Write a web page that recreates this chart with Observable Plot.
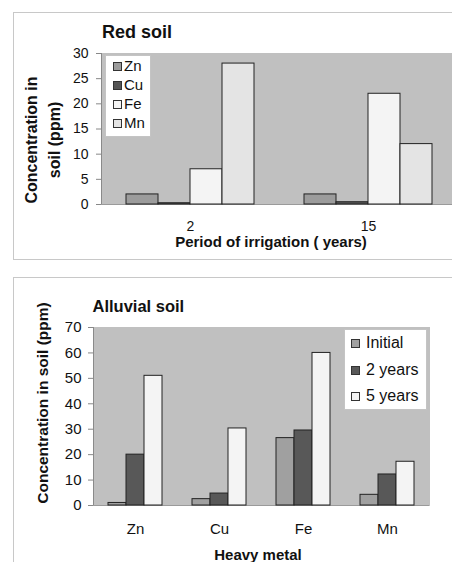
<!DOCTYPE html>
<html>
<head>
<meta charset="utf-8">
<script src="https://cdn.jsdelivr.net/npm/d3@7"></script>
<script src="https://cdn.jsdelivr.net/npm/@observablehq/plot@0.6"></script>
<style>
  html, body { margin: 0; padding: 0; background: #fff; overflow: hidden; width: 452px; height: 562px; }
  body { position: relative; font-family: "Liberation Sans", Arial, sans-serif; color: #111; }
  .abs { position: absolute; }
  .frame { position: absolute; border: 1.5px solid #c8c8c8; box-sizing: border-box; }
  .title { position: absolute; font-weight: bold; line-height: 1; white-space: nowrap; }
  .rot { position: absolute; font-weight: bold; white-space: nowrap; text-align: center;
         transform: translate(-50%, -50%) rotate(-90deg); }
  .legend { position: absolute; background: #fff; border: 1px solid #c4c4c4; box-sizing: border-box; }
  .legend .row { white-space: nowrap; }
  .legend .sw { display: inline-block; width: 7px; height: 7px; border: 1px solid #333; vertical-align: 0px; }
</style>
</head>
<body>
<script>
// ---------- data ----------
const redPeriods = ["2", "15"];
const redMetals = ["Zn", "Cu", "Fe", "Mn"];
const redZn = [2, 2];
const redCu = [0.25, 0.45];
const redFe = [7, 22];
const redMn = [28, 12];
const redTicks = [0, 5, 10, 15, 20, 25, 30];
const redColors = ["#9c9c9c", "#555555", "#f4f4f4", "#e4e4e4"];

const alluvialMetals = ["Zn", "Cu", "Fe", "Mn"];
const alluvialSeries = ["Initial", "2 years", "5 years"];
const alluvialInitial = [1, 2.5, 26.5, 4.2];
const alluvial2y = [20, 4.7, 29.5, 12.2];
const alluvial5y = [51, 30.3, 60, 17.2];
const alluvialTicks = [0, 10, 20, 30, 40, 50, 60, 70];
const alluvialColors = ["#a0a0a0", "#585858", "#f4f4f4"];

const FONT = '"Liberation Sans", Arial, sans-serif';
const BG = "#c0c0c0";

// ---------- tables ----------
const redSeries = [redZn, redCu, redFe, redMn];
const redData = [];
redPeriods.forEach((p, i) => redMetals.forEach((m, j) => redData.push({period: p, metal: m, value: redSeries[j][i]})));

const allSeries = [alluvialInitial, alluvial2y, alluvial5y];
const allData = [];
alluvialMetals.forEach((m, i) => alluvialSeries.forEach((s, j) => allData.push({metal: m, series: s, value: allSeries[j][i]})));

function add(cls, css, html) {
  const d = document.createElement("div");
  if (cls) d.className = cls;
  Object.assign(d.style, css);
  if (html !== undefined) d.innerHTML = html;
  document.body.appendChild(d);
  return d;
}

// frames
add("frame", {left: "13px", top: "12px", width: "460px", height: "248px"});
add("frame", {left: "13px", top: "277px", width: "460px", height: "300px"});

// ---------- top chart ----------
const redChart = Plot.plot({
  width: 470, height: 262,
  marginLeft: 100, marginRight: 13, marginTop: 53, marginBottom: 58,
  style: {fontFamily: FONT, fontSize: "14px", background: "transparent", maxWidth: "none", overflow: "visible", color: "#111"},
  fx: {domain: redPeriods, padding: 0, label: null},
  x: {domain: redMetals, paddingInner: 0, paddingOuter: 0.7, axis: null},
  y: {domain: [0, 30], label: null},
  color: {domain: redMetals, range: redColors},
  marks: [
    Plot.frame({fill: BG, stroke: BG, strokeWidth: 1}),
    Plot.frame({anchor: "left", stroke: "#8a8a8a", facetAnchor: "left"}),
    Plot.axisY({ticks: redTicks, tickSize: 5, tickPadding: 8, label: null, stroke: "#888"}),
    Plot.axisFx({anchor: "bottom", tickSize: 0, tickPadding: 17, label: null}),
    Plot.ruleY([0], {stroke: "#9a9a9a"}),
    Plot.barY(redData, {fx: "period", x: "metal", y: "value", fill: "metal", stroke: "#222", strokeWidth: 1})
  ]
});
const redWrap = add("abs", {left: "0px", top: "0px", width: "470px", height: "262px"});
redWrap.appendChild(redChart);

add("title", {left: "102px", top: "22.5px", fontSize: "18px"}, "Red soil");
add("title", {left: "171px", width: "200px", textAlign: "center", top: "234px", fontSize: "15px"}, "Period of irrigation ( years)");
add("rot", {left: "43px", top: "140px", fontSize: "16px", lineHeight: "23px"}, "Concentration in<br>soil (ppm)");

const lg1 = add("legend", {left: "105px", top: "55px", width: "46px", height: "82px", paddingLeft: "7px", paddingTop: "0px", fontSize: "15px", lineHeight: "19px"});
redMetals.forEach((m, i) => {
  const r = document.createElement("div");
  r.className = "row";
  r.innerHTML = `<span class="sw" style="background:${redColors[i]}"></span><span style="margin-left:2px">${m}</span>`;
  lg1.appendChild(r);
});

// ---------- bottom chart ----------
const allChart = Plot.plot({
  width: 452, height: 292,
  marginLeft: 92, marginRight: 22, marginTop: 57, marginBottom: 57,
  style: {fontFamily: FONT, fontSize: "15px", background: "transparent", maxWidth: "none", overflow: "visible", color: "#111"},
  fx: {domain: alluvialMetals, padding: 0, label: null},
  x: {domain: alluvialSeries, paddingInner: 0, paddingOuter: 0.72, axis: null},
  y: {domain: [0, 70], label: null},
  color: {domain: alluvialSeries, range: alluvialColors},
  marks: [
    Plot.frame({fill: BG, stroke: BG, strokeWidth: 1}),
    Plot.frame({anchor: "left", stroke: "#8a8a8a", facetAnchor: "left"}),
    Plot.axisY({ticks: alluvialTicks, tickSize: 5, tickPadding: 7, label: null, stroke: "#888"}),
    Plot.axisFx({anchor: "bottom", tickSize: 0, tickPadding: 18, label: null}),
    Plot.ruleY([0], {stroke: "#9a9a9a"}),
    Plot.barY(allData, {fx: "metal", x: "series", y: "value", fill: "series", stroke: "#222", strokeWidth: 1})
  ]
});
const allWrap = add("abs", {left: "0px", top: "270px", width: "452px", height: "292px"});
allWrap.appendChild(allChart);

add("title", {left: "92.5px", top: "298px", fontSize: "16.5px"}, "Alluvial soil");
add("title", {left: "158px", width: "200px", textAlign: "center", top: "547px", fontSize: "15px"}, "Heavy metal");
add("rot", {left: "42.5px", top: "403px", fontSize: "15.5px", lineHeight: "1"}, "Concentration in soil (ppm)");

const lg2 = add("legend", {left: "344px", top: "329px", width: "83px", height: "81px", paddingLeft: "6px", paddingTop: "0px", fontSize: "16px", lineHeight: "26.7px"});
alluvialSeries.forEach((s, i) => {
  const r = document.createElement("div");
  r.className = "row";
  r.innerHTML = `<span class="sw" style="background:${alluvialColors[i]}"></span><span style="margin-left:6px">${s}</span>`;
  lg2.appendChild(r);
});
</script>
</body>
</html>
